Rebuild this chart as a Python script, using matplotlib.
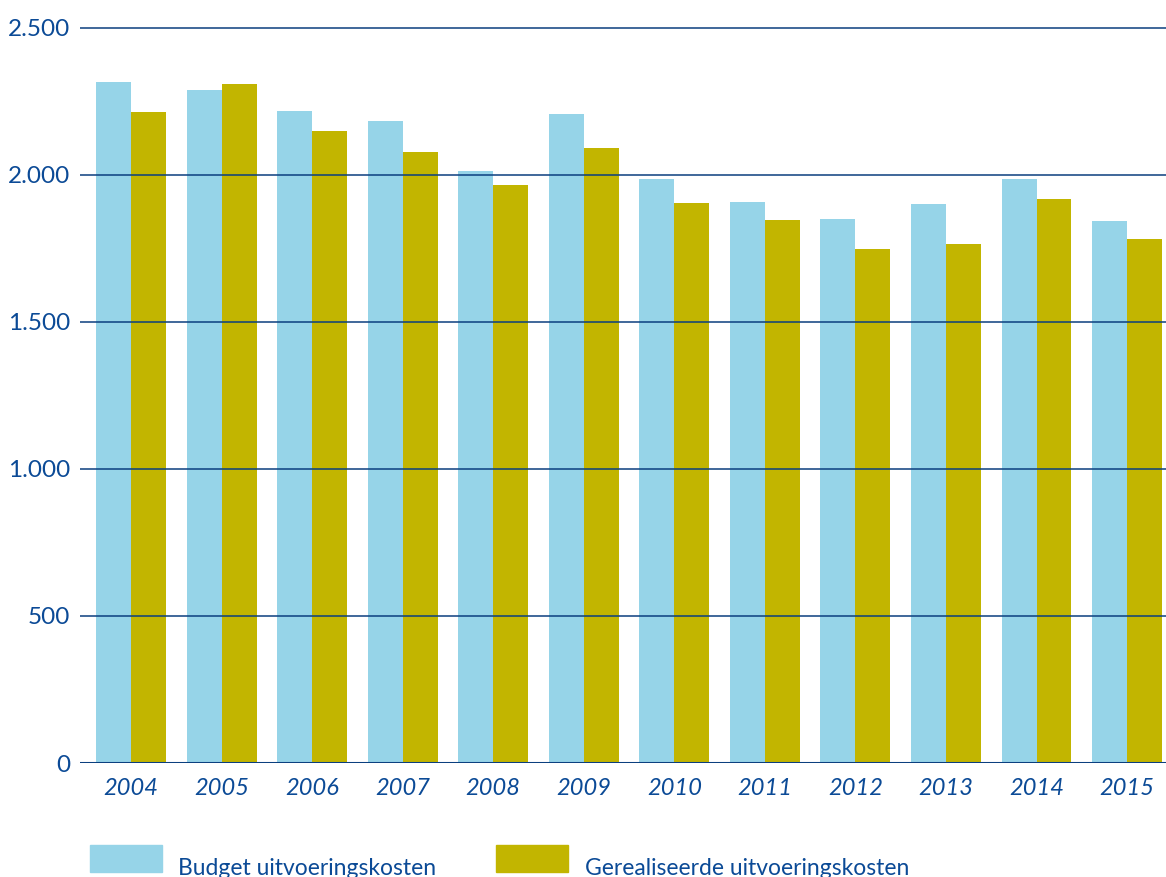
import numpy as np
import matplotlib
matplotlib.use("Agg")
import matplotlib.pyplot as plt
from matplotlib.patches import Rectangle
from matplotlib.ticker import FuncFormatter

# data (x 1 mln euro)
years = ["2004", "2005", "2006", "2007", "2008", "2009",
         "2010", "2011", "2012", "2013", "2014", "2015"]
budget = [2316, 2289, 2218, 2184, 2014, 2207, 1986, 1908, 1850, 1901, 1986, 1844]
realised = [2214, 2310, 2150, 2078, 1966, 2092, 1905, 1847, 1748, 1765, 1918, 1782]
labels = ["Budget uitvoeringskosten", "Gerealiseerde uitvoeringskosten"]

c_budget = "#96d4e8"
c_real = "#c2b500"
c_text = "#0b4a96"
c_grid = "#0b3f7f"

plt.rcParams["font.family"] = ["Lato", "DejaVu Sans"]

fig = plt.figure(figsize=(11.66, 8.77), dpi=100)
ax = fig.add_axes([80 / 1166, 114 / 877, 1 - 80 / 1166, 741 / 877])

x = np.arange(len(years))
w = 0.386
ax.bar(x - w / 2, budget, width=w, color=c_budget, zorder=1)
ax.bar(x + w / 2, realised, width=w, color=c_real, zorder=1)

ax.set_ylim(0, 2520)
ax.set_xlim(-0.564, 11.43)
ax.set_yticks([0, 500, 1000, 1500, 2000, 2500])
ax.yaxis.set_major_formatter(FuncFormatter(lambda v, p: f"{int(v):,}".replace(",", ".")))
ax.set_xticks(x)
ax.set_xticklabels(years, fontstyle="italic")

# gridlines drawn over the bars
for v in [500, 1000, 1500, 2000, 2500]:
    ax.axhline(v, color=c_grid, lw=1.1, zorder=3)
ax.axhline(0, color=c_grid, lw=2.2, zorder=3)

for s in ax.spines.values():
    s.set_visible(False)
ax.tick_params(axis="both", length=0, colors=c_text)
ax.tick_params(axis="y", labelsize=17.5, pad=7)
ax.tick_params(axis="x", labelsize=17, pad=11)

# legend
fig.patches.append(Rectangle((90 / 1166, 5 / 877), 72 / 1166, 27 / 877,
                             transform=fig.transFigure, color=c_budget))
fig.text(178 / 1166, -2 / 877, labels[0], color=c_text, fontsize=16.5, va="bottom")
fig.patches.append(Rectangle((496 / 1166, 5 / 877), 72 / 1166, 27 / 877,
                             transform=fig.transFigure, color=c_real))
fig.text(585 / 1166, -2 / 877, labels[1], color=c_text, fontsize=16.5, va="bottom")

fig.savefig("out.png", dpi=100)
